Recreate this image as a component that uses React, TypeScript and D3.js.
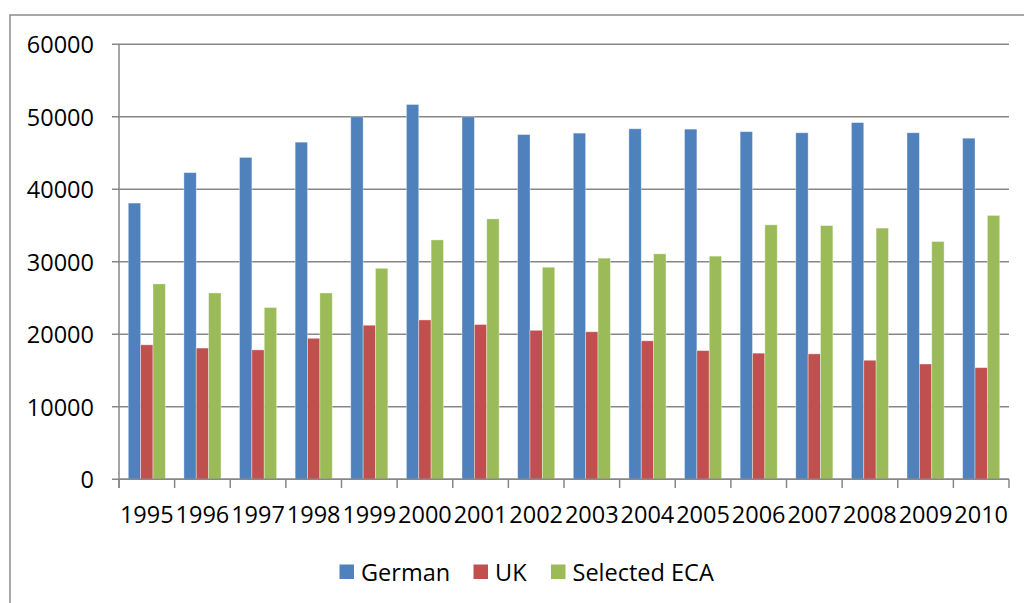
import React from "react";
import * as d3 from "d3";

const years = ["1995","1996","1997","1998","1999","2000","2001","2002","2003","2004","2005","2006","2007","2008","2009","2010"];
const german = [38100, 42300, 44400, 46500, 50000, 51700, 50000, 47550, 47750, 48350, 48300, 47950, 47800, 49200, 47800, 47050];
const uk = [18550, 18100, 17850, 19450, 21250, 21980, 21350, 20550, 20350, 19100, 17750, 17400, 17300, 16420, 15900, 15400];
const eca = [26950, 25700, 23700, 25700, 29100, 33020, 35920, 29250, 30500, 31100, 30780, 35100, 35000, 34650, 32800, 36400];
const seriesNames = ["German", "UK", "Selected ECA"];
const colors = ["#4F81BD", "#C0504D", "#9BBB59"];
const yTicks = [0, 10000, 20000, 30000, 40000, 50000, 60000];

export default function App() {
  const W = 1024, H = 603;
  const left = 119, right = 1009, top = 44.3, bottom = 479.3;
  const font = "'Open Sans', sans-serif";
  const fs = 23.5;
  const x = d3.scaleBand<string>().domain(years).range([left, right]).paddingInner(1 / 3).paddingOuter(1 / 6);
  const y = d3.scaleLinear().domain([0, 60000]).range([bottom, top]);
  const series = [german, uk, eca];
  const bw = x.bandwidth() / 3;
  const step = (right - left) / years.length;
  const grid = "#878787";
  const legendItems = [
    { name: seriesNames[0], x: 339.5 },
    { name: seriesNames[1], x: 473.5 },
    { name: seriesNames[2], x: 551 },
  ];
  return (
    <svg width={W} height={H} style={{ position: "absolute", left: 0, top: 0, background: "#fff" }}>
      <rect x={10} y={15} width={1030} height={620} fill="none" stroke="#8c8c8c" strokeWidth={1.5} />
      {yTicks.map((t) => (
        <g key={t}>
          <line x1={112} x2={right} y1={y(t)} y2={y(t)} stroke={grid} strokeWidth={1.5} />
          <text x={94} y={y(t)} textAnchor="end" dominantBaseline="central" fontFamily={font} fontSize={fs} fill="#000">
            {t}
          </text>
        </g>
      ))}
      {years.map((yr, i) =>
        series.map((s, k) => (
          <rect
            key={yr + k}
            x={(x(yr) as number) + k * bw}
            y={y(s[i])}
            width={bw}
            height={bottom - y(s[i])}
            fill={colors[k]}
            stroke="rgba(255,255,255,0.45)"
            strokeWidth={0.8}
          />
        ))
      )}
      <line x1={left} x2={left} y1={top} y2={488} stroke={grid} strokeWidth={1.5} />
      <line x1={left} x2={right} y1={bottom} y2={bottom} stroke={grid} strokeWidth={1.5} />
      {d3.range(years.length + 1).map((i) => (
        <line key={i} x1={left + i * step} x2={left + i * step} y1={bottom} y2={488} stroke={grid} strokeWidth={1.5} />
      ))}
      {years.map((yr) => (
        <text key={yr} x={(x(yr) as number) + x.bandwidth() / 2} y={514} textAnchor="middle" dominantBaseline="central" fontFamily={font} fontSize={fs} fill="#000">
          {yr}
        </text>
      ))}
      {legendItems.map((it, k) => (
        <g key={it.name}>
          <rect x={it.x} y={564.5} width={14.5} height={14.5} fill={colors[k]} />
          <text x={it.x + 21.5} y={572} dominantBaseline="central" fontFamily={font} fontSize={fs} fill="#000">
            {it.name}
          </text>
        </g>
      ))}
    </svg>
  );
}
